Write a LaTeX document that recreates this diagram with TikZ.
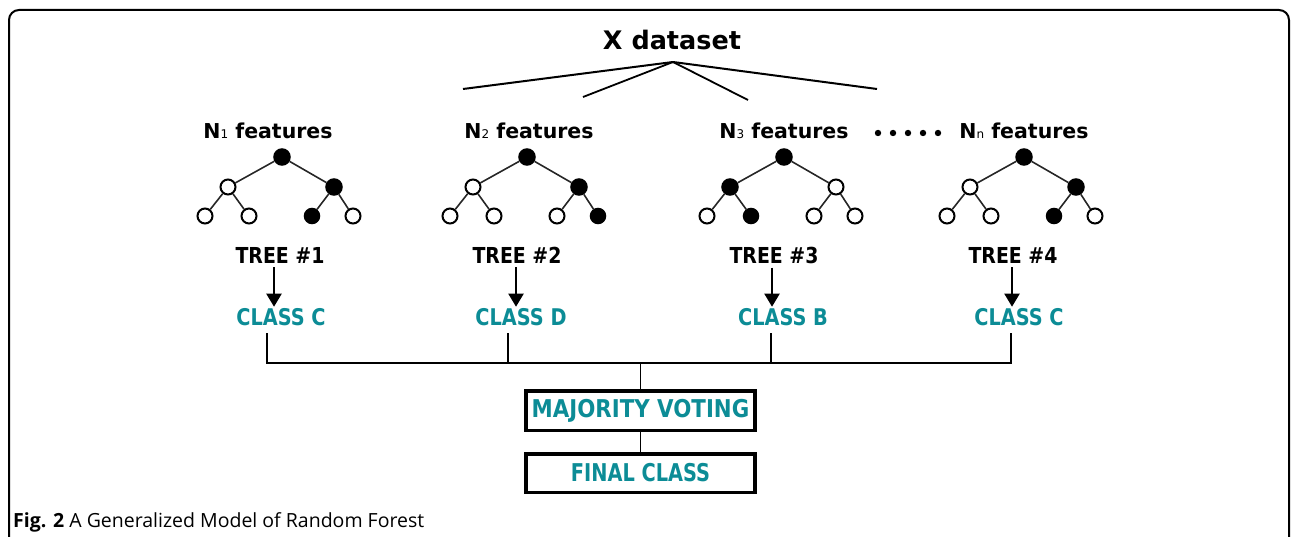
\documentclass[tikz,border=0pt]{standalone}
\usepackage{fontspec}
\setmainfont{DejaVu Sans}
\newfontfamily\capfont{Open Sans}
\usetikzlibrary{arrows.meta}
\definecolor{clsteal}{RGB}{12,140,150}
\newcommand{\sub}[1]{{\fontsize{12}{12}\selectfont\mdseries #1}}
\newcommand{\sx}[2]{\scalebox{#1}[1]{#2}}
\tikzset{
  fn/.style={circle, fill=black, draw=black, line width=1.5pt, minimum size=16pt, inner sep=0pt},
  en/.style={circle, fill=white, draw=black, line width=2pt, minimum size=15pt, inner sep=0pt},
  fnl/.style={fn, minimum size=15pt},
  edge/.style={line width=1.6pt, black!85},
  feat/.style={font=\bfseries\fontsize{20.5}{21}\selectfont, anchor=base, inner sep=0pt},
  treelbl/.style={font=\bfseries\fontsize{22}{22}\selectfont, anchor=base, inner sep=0pt},
  classlbl/.style={font=\bfseries\fontsize{23}{23}\selectfont, text=clsteal, anchor=base, inner sep=0pt},
  boxlbl/.style={draw=black, line width=3.5pt, minimum width=229pt, font=\bfseries\fontsize{24.5}{24.5}\selectfont, text=clsteal, inner sep=0pt},
  arr/.style={line width=2pt, -{Triangle[width=15pt,length=13pt]}},
  thin/.style={line width=1.3pt, black},
}
% #1 prefix, #2 root x, #3 root, #4 L, #5 R, #6 LL, #7 LR, #8 RL, #9 RR
\newcommand{\rftree}[9]{%
  \node[#3] (#1r) at (#2,157) {};
  \node[#4] (#1l) at ([xshift=-54pt]#2,187) {};
  \node[#5] (#1rr) at ([xshift=52pt]#2,187) {};
  \node[#6] (#1a) at ([xshift=-77pt]#2,216) {};
  \node[#7] (#1b) at ([xshift=-33pt]#2,216) {};
  \node[#8] (#1c) at ([xshift=30pt]#2,216) {};
  \node[#9] (#1d) at ([xshift=71pt]#2,216) {};
  \draw[edge] (#1r) -- (#1l);
  \draw[edge] (#1r) -- (#1rr);
  \draw[edge] (#1l) -- (#1a);
  \draw[edge] (#1l) -- (#1b);
  \draw[edge] (#1rr) -- (#1c);
  \draw[edge] (#1rr) -- (#1d);
}
\begin{document}
\begin{tikzpicture}[x=1pt,y=-1pt]
\useasboundingbox (0,0) rectangle (1292,537);
% frame
\draw[line width=2pt, rounded corners=10pt] (9,600) -- (9,10) -- (1289,10) -- (1289,600);

% X dataset
\node[font=\bfseries\fontsize{25.5}{26}\selectfont, anchor=base, inner sep=0pt] (xd) at (672,50) {X dataset};
\coordinate (apex) at (673,62);
\coordinate (f1) at (463,89);
\coordinate (f2) at (583,97);
\coordinate (f3) at (748,100);
\coordinate (f4) at (877,89);
\draw[line width=2pt] (apex) -- (f1);
\draw[line width=1.8pt] (apex) -- (f2);
\draw[line width=1.8pt] (apex) -- (f3);
\draw[line width=2pt] (apex) -- (f4);

% feature labels
\node[feat] (n1) at (268,139) {N\sub{1} features};
\node[feat] (n2) at (529,139) {N\sub{2} features};
\node[feat] (n3) at (784,139) {N\sub{3} features};
\node[feat] (nn) at (1024,139) {N\sub{n} features};
\foreach \dx in {878,893,908,923,938} \fill (\dx,133) circle (3.2pt);

% trees
\rftree{t1}{282}{fn}{en}{fn}{en}{en}{fnl}{en}
\rftree{t2}{527}{fn}{en}{fn}{en}{en}{en}{fnl}
\rftree{t3}{784}{fn}{fn}{en}{en}{fnl}{en}{en}
\rftree{t4}{1024}{fn}{en}{fn}{en}{en}{fnl}{en}

% tree labels
\node[treelbl] (tr1) at (280,263) {\sx{0.86}{TREE \#1}};
\node[treelbl] (tr2) at (517,263) {\sx{0.86}{TREE \#2}};
\node[treelbl] (tr3) at (774,263) {\sx{0.86}{TREE \#3}};
\node[treelbl] (tr4) at (1013,263) {\sx{0.86}{TREE \#4}};

% class labels
\node[classlbl] (c1) at (281,325) {\sx{0.84}{CLASS C}};
\node[classlbl] (c2) at (521,325) {\sx{0.84}{CLASS D}};
\node[classlbl] (c3) at (783,325) {\sx{0.84}{CLASS B}};
\node[classlbl] (c4) at (1019,325) {\sx{0.84}{CLASS C}};

\draw[arr] ([xshift=-6pt,yshift=-4pt]tr1.south) -- ([xshift=-7pt,yshift=1pt]c1.north);
\draw[arr] ([xshift=-1pt,yshift=-4pt]tr2.south) -- ([xshift=-5pt,yshift=1pt]c2.north);
\draw[arr] ([xshift=-2pt,yshift=-4pt]tr3.south) -- ([xshift=-11pt,yshift=1pt]c3.north);
\draw[arr] ([xshift=-1pt,yshift=-4pt]tr4.south) -- ([xshift=-7pt,yshift=1pt]c4.north);

% boxes
\node[boxlbl, minimum height=39.5pt] (mv) at (640.5,410.5) {\sx{0.87}{MAJORITY VOTING}};
\node[boxlbl, minimum height=38.5pt] (fc) at (640.5,473) {\sx{0.79}{FINAL CLASS}};

% bus
\coordinate (b1) at (267,363);
\coordinate (b2) at (508,363);
\coordinate (b3) at (771,363);
\coordinate (b4) at (1011,363);
\coordinate (bm) at (640.5,363);
\draw[thin] (b1 |- 0,333) -- (b1) -- (b4) -- (b4 |- 0,333);
\draw[thin] (b2 |- 0,333) -- (b2);
\draw[thin] (b3 |- 0,333) -- (b3);
\draw[thin] (bm) -- (mv.north);
\draw[thin] (mv.south) -- (fc.north);

% caption
\node[font=\capfont\fontsize{19.5}{19.5}\selectfont, anchor=base west, inner sep=0pt] (cap) at (13,527) {\textbf{Fig. 2} A Generalized Model of Random Forest};
\end{tikzpicture}
\end{document}
